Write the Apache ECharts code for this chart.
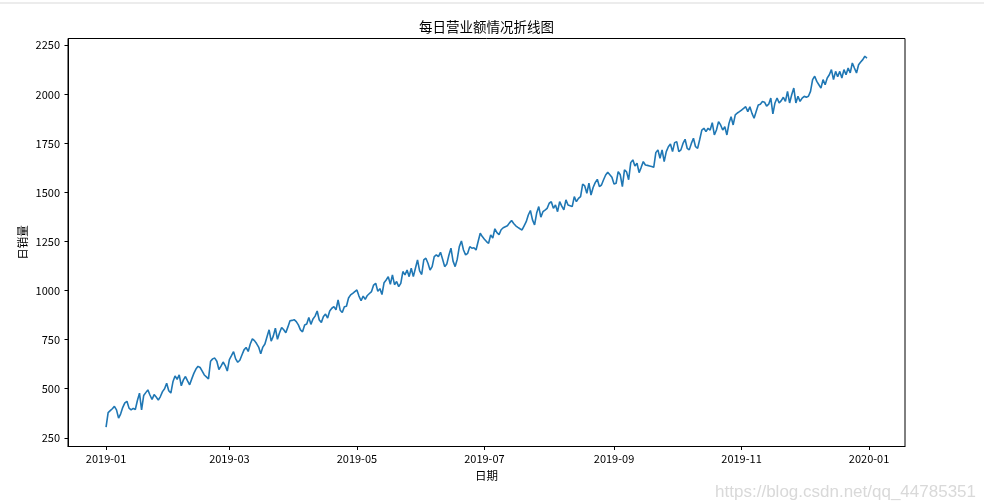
<!DOCTYPE html>
<html>
<head>
<meta charset="utf-8">
<script src="https://cdn.jsdelivr.net/npm/echarts@6/dist/echarts.min.js"></script>
<style>
html,body{margin:0;padding:0;background:#fff;}
#c{width:984px;height:504px;}
</style>
</head>
<body>
<div id="c"></div>
<script>
// ---- data ----
var startDate = '2019-01-01';
var sales = [
304,378,388,398,410,392,350,372,405,428,
436,401,392,400,394,440,477,392,465,480,
494,468,445,470,458,442,460,485,500,528,
490,478,535,565,548,570,515,545,562,540,
520,550,578,600,614,608,590,570,560,550,
640,652,656,640,598,615,636,618,590,648,
668,689,652,635,645,672,698,710,690,728,
754,745,730,712,678,712,728,765,800,742,
768,808,752,785,812,800,785,815,846,848,
852,842,825,800,790,825,830,863,828,855,
870,896,850,838,868,880,860,896,910,918,
902,952,900,888,918,920,962,978,986,995,
1003,972,948,972,955,975,985,995,1028,1037,
996,1010,980,1040,1054,1071,1032,1080,1030,1046,
1020,1037,1097,1080,1105,1071,1114,1071,1114,1156,
1100,1082,1156,1165,1139,1105,1122,1173,1182,1173,
1195,1160,1122,1135,1180,1216,1150,1122,1160,1224,
1253,1207,1182,1190,1224,1216,1218,1207,1250,1292,
1275,1262,1250,1241,1284,1267,1315,1295,1285,1310,
1320,1325,1330,1345,1357,1342,1330,1322,1315,1309,
1330,1351,1385,1408,1360,1335,1395,1428,1374,1402,
1410,1419,1445,1453,1419,1436,1402,1453,1430,1411,
1462,1436,1432,1428,1479,1453,1470,1479,1542,1533,
1496,1547,1487,1525,1550,1567,1530,1538,1565,1589,
1603,1590,1577,1543,1547,1606,1590,1530,1615,1605,
1565,1652,1666,1635,1649,1601,1628,1657,1640,1638,
1635,1632,1628,1703,1717,1674,1717,1657,1708,1733,
1747,1708,1754,1759,1708,1717,1750,1771,1725,1717,
1750,1776,1733,1725,1770,1818,1827,1810,1827,1818,
1856,1793,1818,1861,1844,1818,1835,1793,1852,1886,
1844,1895,1905,1912,1920,1928,1937,1912,1937,1903,
1878,1912,1946,1950,1963,1960,1940,1950,1981,1900,
1956,1981,1956,1968,1985,1964,2015,1956,1998,2032,
1956,1990,1964,1981,1990,1985,1990,2015,2075,2092,
2066,2049,2032,2075,2049,2083,2100,2126,2075,2117,
2090,2117,2083,2126,2100,2134,2109,2160,2134,2109,
2151,2165,2177,2194,2185
];
var xTickLabels = ['2019-01','2019-03','2019-05','2019-07','2019-09','2019-11','2020-01'];
var yTicks = [250,500,750,1000,1250,1500,1750,2000,2250];
var titleText = '每日营业额情况折线图';
var xName = '日期';
var yName = '日销量';
var watermark = 'https://blog.csdn.net/qq_44785351';

// ---- build ----
var DAY = 86400000;
var t0 = Date.parse(startDate + 'T00:00:00Z');
function dayIndex(ym) { return (Date.parse(ym + '-01T00:00:00Z') - t0) / DAY; }
var points = sales.map(function (v, i) { return [i, v]; });
var xTickVals = xTickLabels.map(dayIndex);
var labelMap = {};
xTickVals.forEach(function (d, i) { labelMap[d] = xTickLabels[i]; });
var span = sales.length - 1;
var xMargin = span * 0.05;

var FONT = '"Noto Sans CJK SC", "DejaVu Sans", sans-serif';
var chart = echarts.init(document.getElementById('c'), null, {renderer: 'canvas'});
chart.setOption({
  animation: false,
  backgroundColor: '#fff',
  grid: {left: 68, right: 79, top: 38.5, bottom: 57.5, show: true, borderColor: '#000', borderWidth: 1, backgroundColor: 'transparent'},
  xAxis: {
    type: 'value', min: -xMargin, max: span + xMargin,
    name: xName, nameLocation: 'middle', nameGap: 23, nameMoveOverlap: false,
    nameTextStyle: {color: '#000', fontSize: 11.5, fontFamily: FONT, verticalAlign: 'top'},
    axisLine: {show: true, onZero: false, lineStyle: {color: '#000', width: 1}},
    axisTick: {show: true, length: 3.5, lineStyle: {color: '#000'}, customValues: xTickVals},
    axisLabel: {color: '#000', fontSize: 11, fontFamily: FONT, margin: 7, customValues: xTickVals,
      formatter: function (v) { return labelMap[Math.round(v)] || ''; }},
    splitLine: {show: false}
  },
  yAxis: {
    type: 'value', min: 205.5, max: 2284.5,
    name: yName, nameLocation: 'middle', nameGap: 40, nameRotate: 90, nameMoveOverlap: false,
    nameTextStyle: {color: '#000', fontSize: 11.5, fontFamily: FONT},
    axisLine: {show: true, onZero: false, lineStyle: {color: '#000', width: 1}},
    axisTick: {show: true, length: 3.5, lineStyle: {color: '#000'}, customValues: yTicks},
    axisLabel: {color: '#000', fontSize: 11, fontFamily: FONT, margin: 8, customValues: yTicks,
      formatter: function (v) { return String(Math.round(v)); }},
    splitLine: {show: false}
  },
  graphic: [
    {type: 'line', shape: {x1: 0, y1: 3, x2: 984, y2: 3}, style: {stroke: '#d9d9d9', lineWidth: 1}},
    {type: 'text', x: 486.5, y: 27, style: {text: titleText, font: '13.5px ' + FONT, fill: '#000', align: 'center', verticalAlign: 'middle'}},
    {type: 'text', x: 976, y: 492, style: {text: watermark, font: '17px "Liberation Sans", Arial, sans-serif', fill: '#d9d9d9', align: 'right', verticalAlign: 'middle'}}
  ],
  series: [{
    type: 'line', data: points, showSymbol: false, symbol: 'none',
    lineStyle: {color: '#1f77b4', width: 1.6}, clip: false
  }]
});
</script>
</body>
</html>
